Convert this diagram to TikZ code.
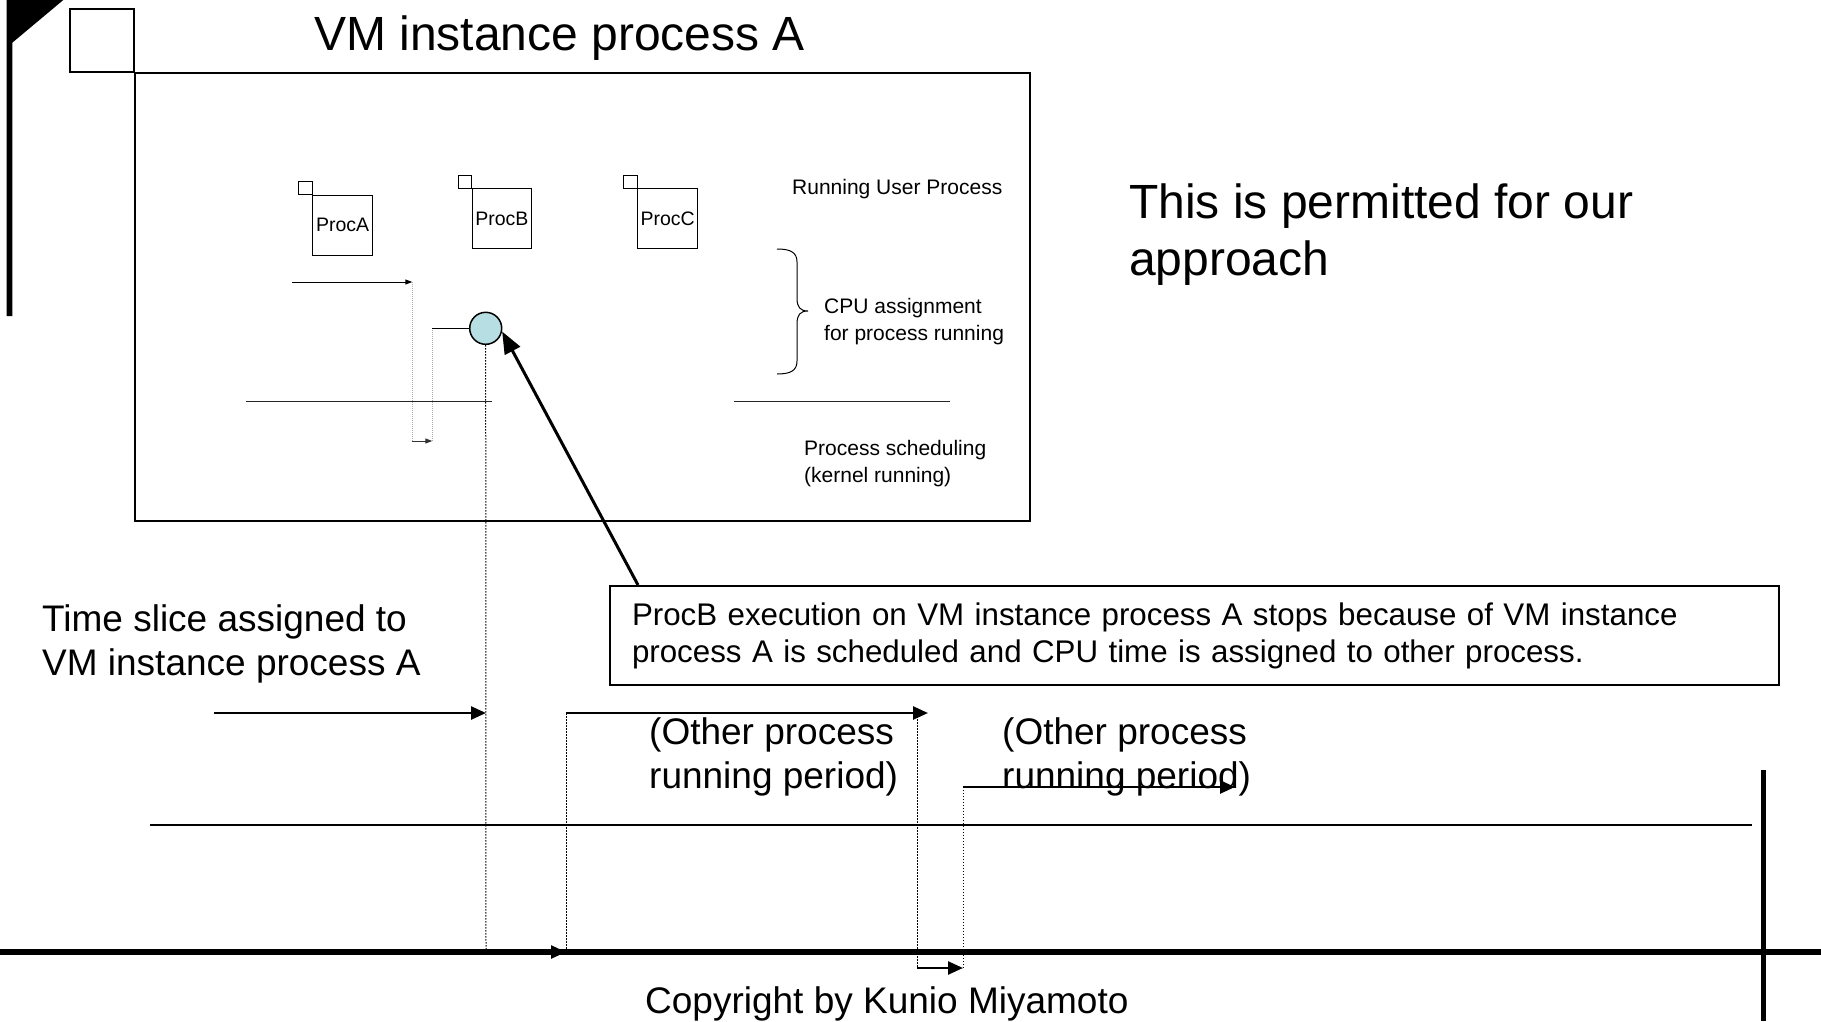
\documentclass[tikz,border=0pt]{standalone}
\usepackage{fontspec}
\setmainfont{Liberation Sans}
\usetikzlibrary{arrows.meta}
\definecolor{procfill}{RGB}{183,223,227}
\newcommand\stackedtext[1]{\begin{tabular}[t]{@{}l@{}}#1\end{tabular}}

\begin{document}
\begin{tikzpicture}[x=1pt,y=-1pt,
  thinline/.style={line width=1pt},
  heavy/.style={line width=2.5pt},
  tipS/.style={-{Triangle[length=7pt,width=5pt]}},
  tipM/.style={-{Triangle[length=15pt,width=13pt]}},
  tipL/.style={-{Triangle[length=22pt,width=17pt]}},
  guide/.style={gray!65, line width=0.8pt, dash pattern=on 1pt off 1pt},
  drop/.style={black, line width=1pt, dash pattern=on 1.5pt off 1.5pt},
  procbox/.style={draw, line width=1pt, minimum size=59.6pt, inner sep=0pt,
    font=\fontsize{19.5}{24}\selectfont},
  lbl/.style={anchor=base west, inner sep=0pt},
  bigfont/.style={font=\fontsize{48}{57}\selectfont},
  midfont/.style={font=\fontsize{37}{44}\selectfont},
  smallfont/.style={font=\fontsize{21}{27}\selectfont},
]
\useasboundingbox (0,0) rectangle (1821,1021);

% thick bar with its corner wedge at the left edge
\fill (6.7,0) -- (63.3,0) -- (12.3,42.7) -- (12.3,316) -- (6.7,316) -- cycle;

% VM instance frame with its small corner square
\node[draw, line width=2pt, anchor=north west, minimum width=895pt,
      minimum height=448pt, inner sep=0pt] (vmbox) at (134,72) {};
\draw[line width=2pt] (vmbox.north west) rectangle ++(-64,-63);
\node[lbl, bigfont] (title) at (314,50) {VM instance process A};

% processes
\node[procbox] (pa) at (342.6,225.2) {ProcA};
\node[procbox] (pb) at (501.8,218.5) {ProcB};
\node[procbox] (pc) at (667.7,218.5) {ProcC};
\foreach \p in {pa,pb,pc}
  \draw[thinline] (\p.north west) rectangle ++(-13.5,-13.2);

% schedule inside the VM
\coordinate (a1) at (292,282);
\coordinate (a2) at (412.3,282);
\coordinate (a3) at (412.3,441);
\coordinate (a4) at (432.3,441);
\coordinate (a5) at (432.3,328.3);
\node[circle, draw, line width=1.5pt, fill=procfill, minimum size=32pt,
      inner sep=0pt] (circ) at (485.7,328.3) {};
\draw[thinline, tipS] (a1) -- (a2);
\draw[guide] (a2) -- (a3);
\draw[thinline, tipS, black!80] (a3) -- (a4);
\draw[guide] (a4) -- (a5);
\draw[thinline] (a5) -- (circ.west);

\coordinate (k1) at (246,401);
\coordinate (k2) at (492.3,401);
\coordinate (k3) at (734,401);
\coordinate (k4) at (950,401);
\draw[thinline, black!85] (k1) -- (k2);
\draw[thinline, black!85] (k3) -- (k4);

\node[lbl, smallfont] (user) at (792,194.5) {Running User Process};
\draw[thinline] (777,249) .. controls (790,249) and (797,252) .. (797,262)
  -- (797,298) .. controls (797,307) and (800,311) .. (808,311)
  .. controls (800,311) and (797,315) .. (797,324)
  -- (797,361) .. controls (797,371) and (790,374) .. (777,374);
\node[lbl, smallfont] (cpu) at (824,313.5)
  {\stackedtext{CPU assignment\\for process running}};
\node[lbl, smallfont] (sched) at (804,455)
  {\stackedtext{Process scheduling\\(kernel running)}};

% remark on the right
\node[lbl, bigfont] (remark) at (1129,218)
  {\stackedtext{This is permitted for our\\approach}};

% callout
\node[draw, line width=2pt, anchor=north west, minimum height=99pt,
      text width=1125pt, inner xsep=22pt, inner ysep=0pt, align=left,
      font=\fontsize{31.3}{37}\selectfont] (callout) at (609,585)
  {ProcB execution on VM instance process A stops because of VM instance\\
   process A is scheduled and CPU time is assigned to other process.};
\coordinate (leadstart) at (638,585);
\draw[line width=3pt, tipL] (leadstart) -- (circ.-11);

% host time line
\node[lbl, midfont] (slice) at (42,631)
  {\stackedtext{Time slice assigned to\\VM instance process A}};
\node[lbl, midfont] (other1) at (649,744)
  {\stackedtext{(Other process\\running period)}};
\node[lbl, midfont] (other2) at (1002,744)
  {\stackedtext{(Other process\\running period)}};

\coordinate (t0) at (214,713);
\coordinate (t1) at (486,713);
\coordinate (t1b) at (486,952);
\coordinate (t2b) at (566,952);
\coordinate (t2) at (566,713);
\coordinate (t3) at (928,713);
\coordinate (t3d) at (917,713);
\coordinate (t4) at (917,968);
\coordinate (t5) at (963,968);
\coordinate (t6) at (963,787);
\coordinate (t7) at (1235,787);

\draw[line width=6pt] (0,952) -- (1821,952);
\draw[line width=2pt] (150,825) -- (1752,825);
\draw[line width=5pt] (1763,770) -- (1763,1021);

\draw[drop] (circ.south) -- (t1b);
\draw[drop] (t2) -- (t2b);
\draw[drop] (t3d) -- (t4);
\draw[drop] (t5) -- (t6);

\draw[heavy, tipM] (t0) -- (t1);
\draw[heavy, tipM] (t1b) -- (t2b);
\draw[heavy, tipM] (t2) -- (t3);
\draw[heavy, tipM] (t4) -- (t5);
\draw[heavy, tipM] (t6) -- (t7);

\node[lbl, midfont] (copy) at (645,1013) {Copyright by Kunio Miyamoto};
\end{tikzpicture}
\end{document}
